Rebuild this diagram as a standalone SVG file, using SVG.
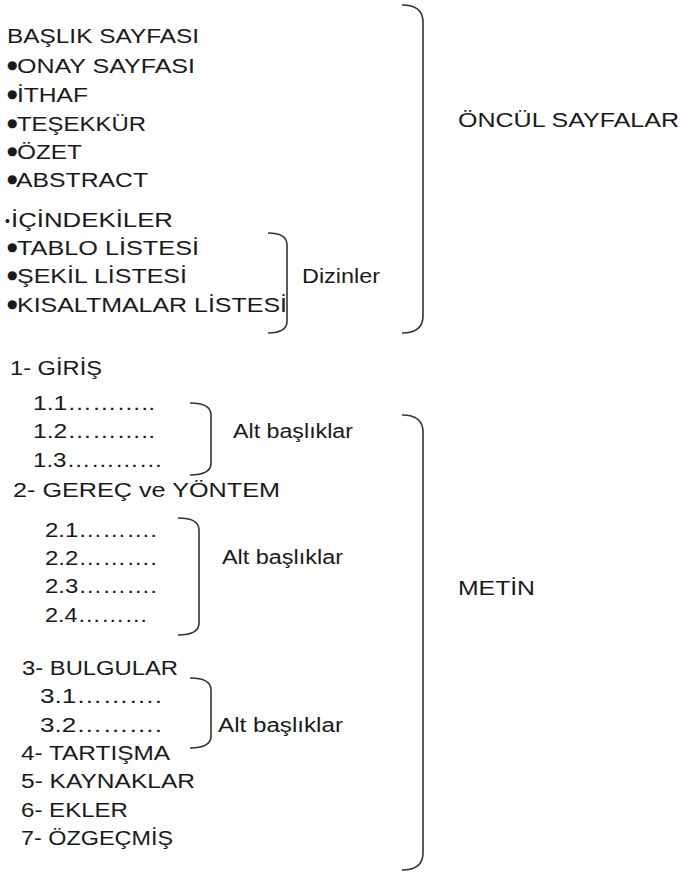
<svg xmlns="http://www.w3.org/2000/svg" width="680" height="875" viewBox="0 0 680 875">
<style>
text{font-family:"Liberation Sans",Arial,sans-serif;font-size:20px;fill:#1a1a1a}
.br{fill:none;stroke:#333;stroke-width:1.6}
text.b{font-family:"DejaVu Sans",sans-serif;font-size:12px}
text.sb{font-size:14px}
</style>
<rect width="680" height="875" fill="#fff"/>
<g id="connectors">
<path class="br" d="M402 5 C416 5 423 10 423 22 L423 316 C423 328 416 333 402 333"/>
<path class="br" d="M268 233 C280 233 287 236 287 245 L287 321 C287 330 280 333 268 333"/>
<path class="br" d="M190 403 C203 403 211 406 211 415 L211 463 C211 472 203 475 190 475"/>
<path class="br" d="M178 518 C191 518 199 521 199 530 L199 623 C199 632 191 635 178 635"/>
<path class="br" d="M190 678 C203 678 211 681 211 690 L211 736 C211 745 203 748 190 748"/>
<path class="br" d="M402 415 C416 415 423 420 423 432 L423 853 C423 865 416 870 402 870"/>
</g>
<g id="baslik"><text x="7" y="43" textLength="192" lengthAdjust="spacingAndGlyphs">BAŞLIK SAYFASI</text></g>
<g id="onay"><text class="b" x="7" y="69">●</text><text x="17" y="73" textLength="178" lengthAdjust="spacingAndGlyphs">ONAY SAYFASI</text></g>
<g id="ithaf"><text class="b" x="7" y="98">●</text><text x="17" y="102" textLength="71" lengthAdjust="spacingAndGlyphs">İTHAF</text></g>
<g id="tesekkur"><text class="b" x="7" y="127">●</text><text x="17" y="131" textLength="129" lengthAdjust="spacingAndGlyphs">TEŞEKKÜR</text></g>
<g id="ozet"><text class="b" x="7" y="155">●</text><text x="17" y="159" textLength="65" lengthAdjust="spacingAndGlyphs">ÖZET</text></g>
<g id="abstract"><text class="b" x="7" y="183">●</text><text x="16" y="187" textLength="132" lengthAdjust="spacingAndGlyphs">ABSTRACT</text></g>
<g id="icindekiler"><text class="sb" x="5" y="226">•</text><text x="11" y="227" textLength="162" lengthAdjust="spacingAndGlyphs">İÇİNDEKİLER</text></g>
<g id="tablo"><text class="b" x="7" y="251">●</text><text x="17" y="255" textLength="182" lengthAdjust="spacingAndGlyphs">TABLO LİSTESİ</text></g>
<g id="sekil"><text class="b" x="7" y="279">●</text><text x="17" y="283" textLength="170" lengthAdjust="spacingAndGlyphs">ŞEKİL LİSTESİ</text></g>
<g id="kisaltmalar"><text class="b" x="7" y="308">●</text><text x="17" y="312" textLength="270" lengthAdjust="spacingAndGlyphs">KISALTMALAR LİSTESİ</text></g>
<g id="dizinler"><text x="302" y="283" textLength="78" lengthAdjust="spacingAndGlyphs">Dizinler</text></g>
<g id="oncul"><text x="458" y="127" textLength="221" lengthAdjust="spacingAndGlyphs">ÖNCÜL SAYFALAR</text></g>
<g id="giris"><text x="10" y="375" textLength="92" lengthAdjust="spacingAndGlyphs">1- GİRİŞ</text></g>
<g id="s11"><text x="33" y="410" textLength="122" lengthAdjust="spacingAndGlyphs">1.1………..</text></g>
<g id="s12"><text x="33" y="438" textLength="122" lengthAdjust="spacingAndGlyphs">1.2………..</text></g>
<g id="s13"><text x="33" y="467" textLength="130" lengthAdjust="spacingAndGlyphs">1.3…………</text></g>
<g id="alt1"><text x="233" y="438" textLength="120" lengthAdjust="spacingAndGlyphs">Alt başlıklar</text></g>
<g id="gerec"><text x="13" y="497" textLength="267" lengthAdjust="spacingAndGlyphs">2- GEREÇ ve YÖNTEM</text></g>
<g id="s21"><text x="45" y="537" textLength="112" lengthAdjust="spacingAndGlyphs">2.1……….</text></g>
<g id="s22"><text x="45" y="565" textLength="112" lengthAdjust="spacingAndGlyphs">2.2……….</text></g>
<g id="s23"><text x="45" y="593" textLength="112" lengthAdjust="spacingAndGlyphs">2.3……….</text></g>
<g id="s24"><text x="45" y="622" textLength="103" lengthAdjust="spacingAndGlyphs">2.4………</text></g>
<g id="alt2"><text x="222" y="564" textLength="121" lengthAdjust="spacingAndGlyphs">Alt başlıklar</text></g>
<g id="bulgular"><text x="22" y="675" textLength="156" lengthAdjust="spacingAndGlyphs">3- BULGULAR</text></g>
<g id="s31"><text x="40" y="703" textLength="122" lengthAdjust="spacingAndGlyphs">3.1……….</text></g>
<g id="s32"><text x="40" y="732" textLength="122" lengthAdjust="spacingAndGlyphs">3.2……….</text></g>
<g id="alt3"><text x="218" y="732" textLength="125" lengthAdjust="spacingAndGlyphs">Alt başlıklar</text></g>
<g id="tartisma"><text x="21" y="760" textLength="149" lengthAdjust="spacingAndGlyphs">4- TARTIŞMA</text></g>
<g id="kaynaklar"><text x="21" y="788" textLength="174" lengthAdjust="spacingAndGlyphs">5- KAYNAKLAR</text></g>
<g id="ekler"><text x="21" y="817" textLength="107" lengthAdjust="spacingAndGlyphs">6- EKLER</text></g>
<g id="ozgecmis"><text x="21" y="845" textLength="152" lengthAdjust="spacingAndGlyphs">7- ÖZGEÇMİŞ</text></g>
<g id="metin"><text x="458" y="595" textLength="77" lengthAdjust="spacingAndGlyphs">METİN</text></g>
</svg>
